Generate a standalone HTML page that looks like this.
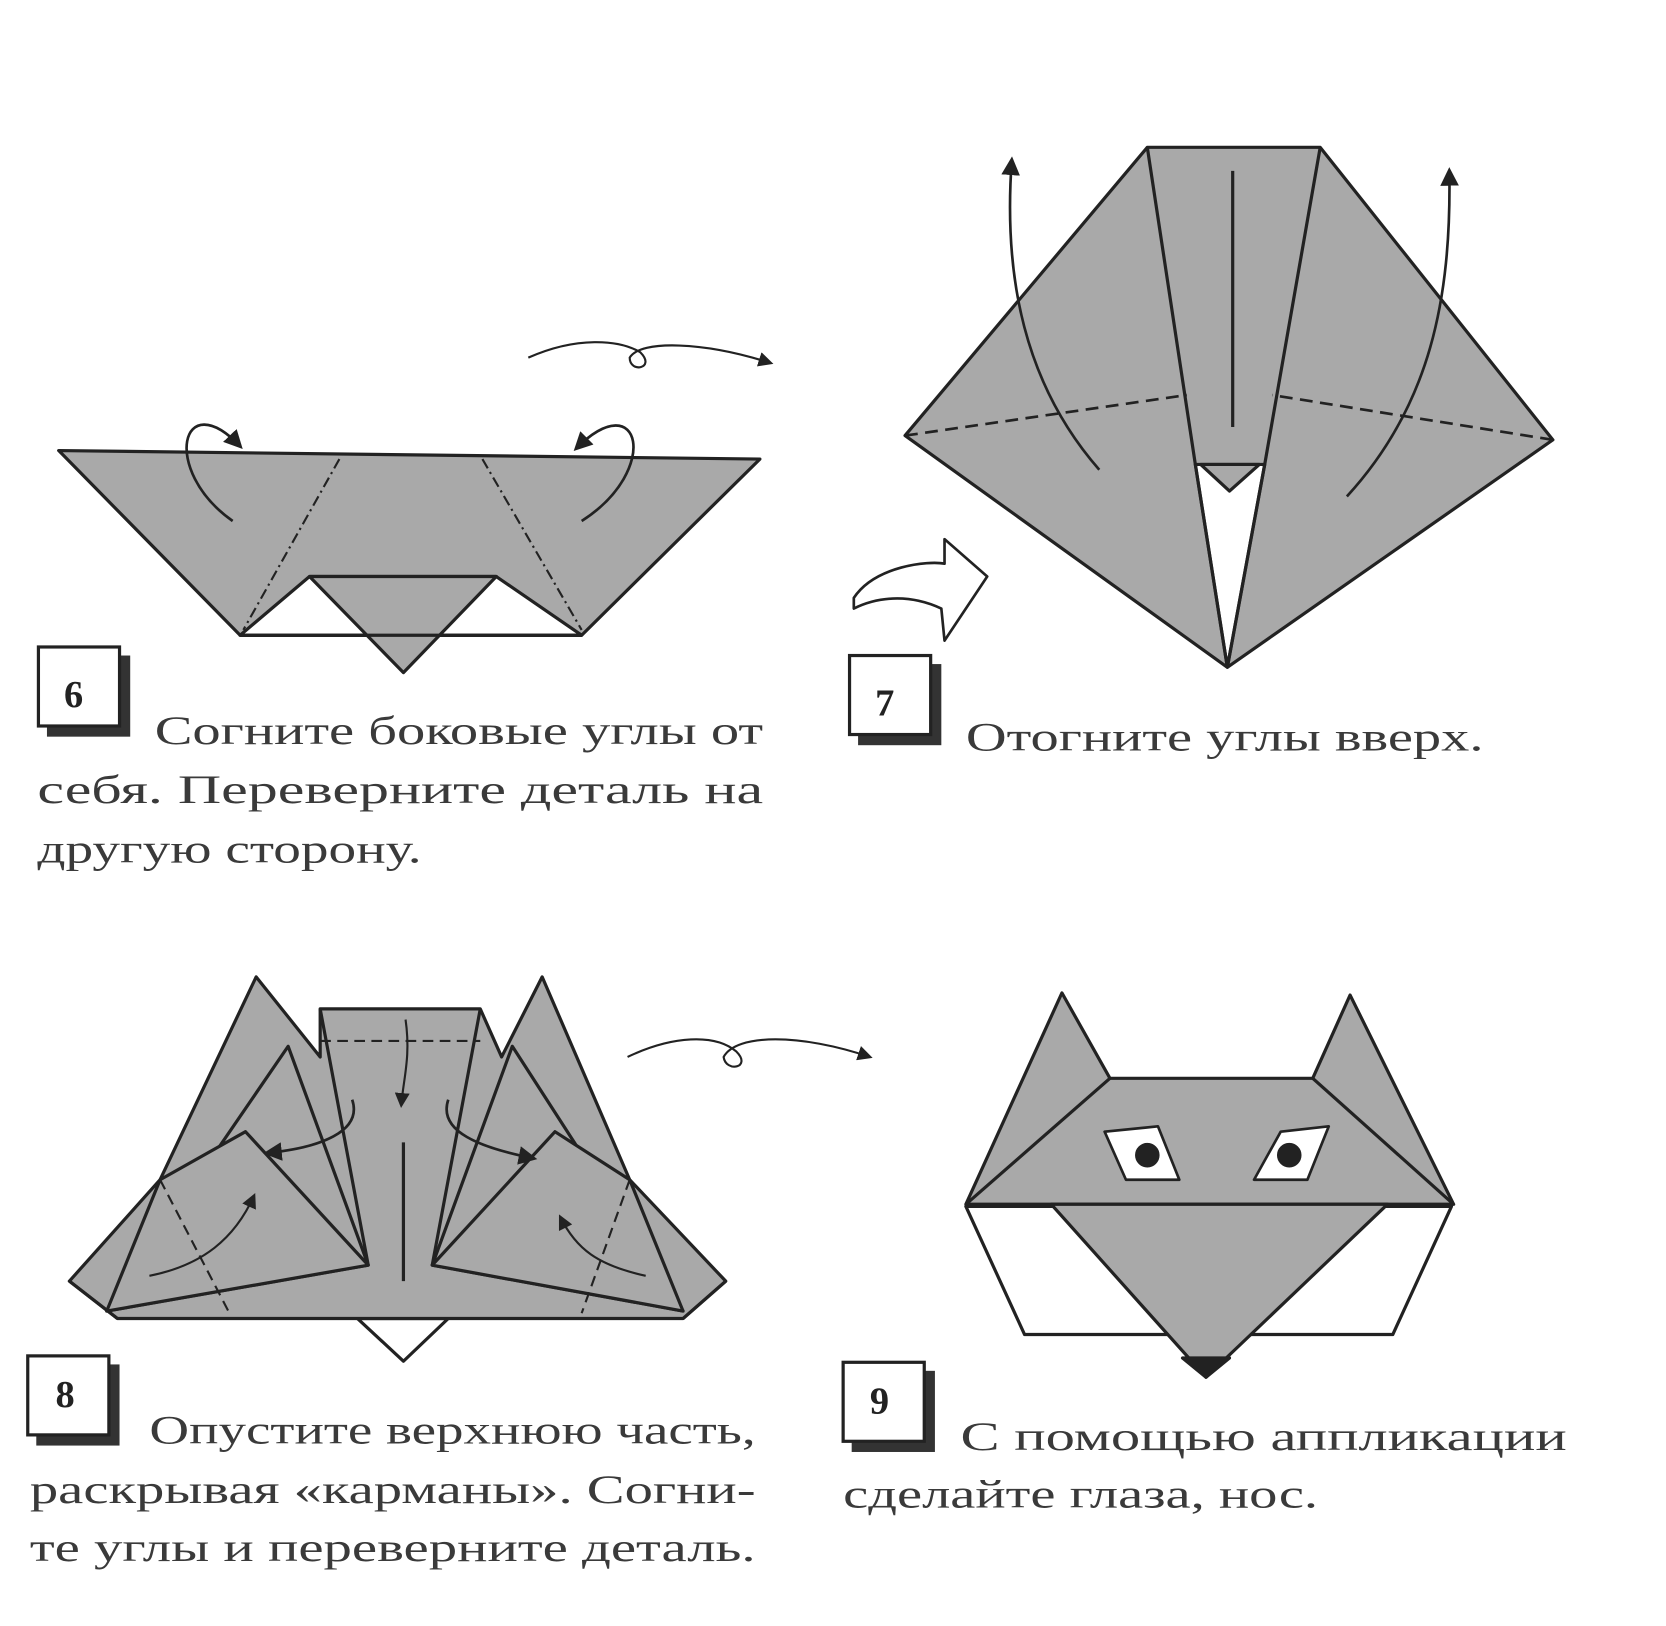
<!DOCTYPE html>
<html><head><meta charset="utf-8"><style>
html,body{margin:0;padding:0;background:#fff;}
svg{display:block}
.n{font-family:"Liberation Serif",serif;font-weight:bold;fill:#222;}
.t{font-family:"Liberation Serif",serif;font-weight:normal;fill:#3a3a3a;}
</style></head><body>
<svg width="1666" height="1626" viewBox="0 0 1561 1523" preserveAspectRatio="none" xmlns="http://www.w3.org/2000/svg">
<defs><marker id="ah" viewBox="0 0 10 10" refX="8" refY="5" markerWidth="7" markerHeight="7" orient="auto"><path d="M0,0 L10,5 L0,10 z" fill="#222"/></marker></defs>
<g stroke="#222" stroke-width="3" stroke-linejoin="round" fill="#a9a9a9">
<!-- step 6 -->
<polygon points="55,422 712,430 545,595 225,595"/>
<polygon points="225,595 290,540 465,540 545,595" fill="#fff"/>
<polygon points="290,540 465,540 378,630"/>
<line x1="225" y1="595" x2="545" y2="595"/>
<line x1="318" y1="430" x2="228" y2="590" stroke-dasharray="10,4,2,4" stroke-width="2"/>
<line x1="452" y1="430" x2="545" y2="590" stroke-dasharray="10,4,2,4" stroke-width="2"/>
<path d="M218,488 C150,440 170,360 225,418" fill="none" stroke-width="2.5" marker-end="url(#ah)"/>
<path d="M545,488 C620,440 600,360 540,420" fill="none" stroke-width="2.5" marker-end="url(#ah)"/>
<path d="M495,335 C540,315 580,318 600,330 C615,345 590,350 590,335 C600,318 660,320 722,340" fill="none" stroke-width="2" marker-end="url(#ah)"/>
<!-- step 7 -->
<polygon points="1075,138 1237,138 1455,412 1150,625 848,408"/>
<polygon points="1120,435 1185,435 1150,625" fill="#fff"/>
<polygon points="1125,435 1180,435 1152,460"/>
<line x1="1075" y1="138" x2="1120" y2="435"/>
<line x1="1237" y1="138" x2="1185" y2="435"/>
<line x1="1120" y1="435" x2="1150" y2="625"/>
<line x1="1185" y1="435" x2="1150" y2="625"/>
<line x1="1155" y1="160" x2="1155" y2="400"/>
<line x1="848" y1="408" x2="1112" y2="370" stroke-dasharray="12,7" stroke-width="2.5"/>
<line x1="1455" y1="412" x2="1192" y2="370" stroke-dasharray="12,7" stroke-width="2.5"/>
<path d="M1030,440 C960,360 940,260 948,150" fill="none" stroke-width="2.5" marker-end="url(#ah)"/>
<path d="M1262,465 C1340,380 1360,280 1358,160" fill="none" stroke-width="2.5" marker-end="url(#ah)"/>
<path d="M800,560 C820,530 870,525 885,528 L885,505 L925,540 L885,600 L882,570 C850,555 820,560 800,570 z" fill="#fff" stroke-width="2.5"/>
<!-- step 8 -->
<polygon points="378,1275 335,1235 420,1235" fill="#fff"/>
<polygon points="65,1200 150,1105 240,915 300,990 300,945 450,945 470,990 508,915 590,1105 680,1200 640,1235 110,1235"/>
<line x1="65" y1="1200" x2="110" y2="1235"/>
<line x1="680" y1="1200" x2="640" y2="1235"/>
<polygon points="100,1228 270,980 345,1185"/>
<polygon points="640,1228 480,980 405,1185"/>
<polygon points="100,1228 150,1105 230,1060 345,1185"/>
<polygon points="640,1228 590,1105 520,1060 405,1185"/>
<line x1="300" y1="945" x2="345" y2="1185"/>
<line x1="450" y1="945" x2="405" y2="1185"/>
<line x1="378" y1="1070" x2="378" y2="1200"/>
<line x1="300" y1="975" x2="450" y2="975" stroke-dasharray="10,6" stroke-width="2"/>
<line x1="150" y1="1105" x2="215" y2="1230" stroke-dasharray="10,6" stroke-width="2"/>
<line x1="590" y1="1105" x2="545" y2="1230" stroke-dasharray="10,6" stroke-width="2"/>
<path d="M380,955 C385,990 378,1010 376,1035" fill="none" stroke-width="2" marker-end="url(#ah)"/>
<path d="M330,1030 C340,1060 300,1075 250,1080" fill="none" stroke-width="2.5" marker-end="url(#ah)"/>
<path d="M420,1030 C410,1060 450,1075 500,1085" fill="none" stroke-width="2.5" marker-end="url(#ah)"/>
<path d="M140,1195 C190,1185 220,1160 238,1120" fill="none" stroke-width="2" marker-end="url(#ah)"/>
<path d="M605,1195 C560,1185 540,1170 525,1140" fill="none" stroke-width="2" marker-end="url(#ah)"/>
<path d="M588,990 C630,970 670,968 690,985 C705,1000 680,1005 678,990 C690,968 750,968 815,990" fill="none" stroke-width="2" marker-end="url(#ah)"/>
<!-- step 9 -->
<polygon points="905,1130 1360,1130 1305,1250 960,1250" fill="#fff"/>
<polygon points="905,1128 995,930 1040,1010 1230,1010 1265,932 1362,1128"/>
<line x1="905" y1="1128" x2="1040" y2="1010"/>
<line x1="1362" y1="1128" x2="1230" y2="1010"/>
<polygon points="985,1128 1300,1128 1130,1290"/>
<polygon points="1108,1272 1152,1272 1130,1290" fill="#222"/>
<polygon points="1035,1060 1085,1055 1105,1105 1055,1105" fill="#fff" stroke-width="2.5"/>
<polygon points="1245,1055 1200,1060 1175,1105 1225,1105" fill="#fff" stroke-width="2.5"/>
<circle cx="1075" cy="1082" r="10" fill="#222"/>
<circle cx="1208" cy="1082" r="10" fill="#222"/>
</g>
<!-- labels -->
<g stroke="#222" stroke-width="3" fill="#fff">
<rect x="44" y="614" width="78" height="76" fill="#333" stroke="none"/><rect x="36" y="606" width="76" height="74"/>
<rect x="804" y="622" width="78" height="76" fill="#333" stroke="none"/><rect x="796" y="614" width="76" height="74"/>
<rect x="34" y="1278" width="78" height="76" fill="#333" stroke="none"/><rect x="26" y="1270" width="76" height="74"/>
<rect x="798" y="1284" width="78" height="76" fill="#333" stroke="none"/><rect x="790" y="1276" width="76" height="74"/>
</g>
<g font-size="36" class="n">
<text class="n" x="60" y="662">6</text><text class="n" x="820" y="670">7</text><text class="n" x="52" y="1318">8</text><text class="n" x="815" y="1324">9</text>
</g>
<g font-size="38">
<text class="t" x="145" y="697" textLength="570" lengthAdjust="spacingAndGlyphs">Согните боковые углы от</text>
<text class="t" x="35" y="752" textLength="680" lengthAdjust="spacingAndGlyphs">себя. Переверните деталь на</text>
<text class="t" x="35" y="808" textLength="360" lengthAdjust="spacingAndGlyphs">другую сторону.</text>
<text class="t" x="905" y="703" textLength="485" lengthAdjust="spacingAndGlyphs">Отогните углы вверх.</text>
<text class="t" x="140" y="1352" textLength="568" lengthAdjust="spacingAndGlyphs">Опустите верхнюю часть,</text>
<text class="t" x="28" y="1408" textLength="680" lengthAdjust="spacingAndGlyphs">раскрывая «карманы». Согни-</text>
<text class="t" x="28" y="1462" textLength="680" lengthAdjust="spacingAndGlyphs">те углы и переверните деталь.</text>
<text class="t" x="900" y="1358" textLength="568" lengthAdjust="spacingAndGlyphs">С помощью аппликации</text>
<text class="t" x="790" y="1412" textLength="445" lengthAdjust="spacingAndGlyphs">сделайте глаза, нос.</text>
</g>
</svg>
</body></html>
